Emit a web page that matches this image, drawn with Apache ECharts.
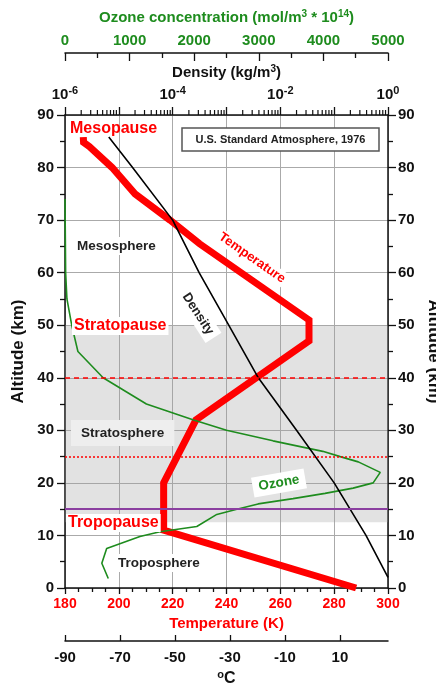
<!DOCTYPE html>
<html><head><meta charset="utf-8">
<script src="https://cdn.jsdelivr.net/npm/echarts@6/dist/echarts.min.js"></script>
<style>html,body{margin:0;padding:0;background:#fff}#c{width:436px;height:684px}</style>
</head><body><div id="c"></div>
<script>
// ---- data ----
const temperatureK   = [288.15, 216.65, 216.65, 228.65, 270.65, 270.65, 230, 219, 206, 197.5, 189, 186.9, 186.8];
const temperatureAlt = [0, 11, 20, 32, 47, 51, 65.5, 70, 75, 80, 84, 84.8, 85.8];

const densityKgM3  = [1.0, 0.39, 0.1, 0.02, 0.0039, 0.0011, 3.1e-4, 1.0e-4, 1.8e-5, 6.5e-6];
const densityAlt   = [2, 10, 20, 30, 40, 50, 60, 70, 80, 85.8];

const ozoneConc = [670, 570, 645, 1160, 1470, 2040, 2350, 2660, 2990, 3530, 4025, 4460, 4770, 4880, 4540, 4260, 3990, 3220, 2500, 1980, 1260, 590, 200, 104, 30, 10, 0];
const ozoneAlt  = [1.8, 4.7, 7.5, 9.8, 10.7, 11.7, 14, 15, 16, 17, 18, 19, 20, 22, 24, 25, 26, 28, 30, 32, 35, 40, 45, 50, 55, 60, 74];

const stratosphereBand = [12.5, 50];
const stratopauseLine = 40;   // dashed red
const ozoneLayerLine  = 25;   // dotted red
const tropopauseLine  = 15;   // purple

const celsiusTicks      = [-90, -70, -50, -30, -10, 10];
const densityDecades    = [1e-6, 1e-5, 1e-4, 1e-3, 1e-2, 1e-1, 1];
const densityLabelTicks = [1e-6, 1e-4, 1e-2, 1];
const densityMinorMultipliers = [2, 3, 4, 5, 6, 7, 8, 9];

// ---- build ----
const F = "'Liberation Sans', Arial, sans-serif";
const RED = '#ff0000', GREEN = '#1e8c1e', PURPLE = '#8b3fa0', AX = '#111';
const zip = (xs, ys) => xs.map((x, i) => [x, ys[i]]);
const densityMinor = [];
densityDecades.slice(0, -1).forEach(d => densityMinorMultipliers.forEach(m => densityMinor.push(m * d)));
const topAlt = 90;

const axLine = {show: true, onZero: false, lineStyle: {color: AX, width: 1.5}};
const tickStyle = {color: AX, width: 1.3};
const plain = v => String(v);

const chart = echarts.init(document.getElementById('c'), null, {renderer: 'canvas'});
const option = {
  animation: false,
  backgroundColor: '#fff',
  textStyle: {fontFamily: F},
  grid: {left: 65, top: 115, right: 48, bottom: 96, containLabel: false, outerBoundsMode: 'none'},
  xAxis: [
    { // temperature (K)
      type: 'value', position: 'bottom', min: 180, max: 300, interval: 20,
      axisLine: axLine,
      axisTick: {show: true, length: 6, lineStyle: tickStyle},
      minorTick: {show: true, splitNumber: 4, length: 4, lineStyle: tickStyle},
      splitLine: {show: true, lineStyle: {color: '#aaa', width: 1}},
      axisLabel: {color: RED, fontSize: 14, fontWeight: 'bold', margin: 9, fontFamily: F, formatter: plain},
      name: 'Temperature (K)', nameLocation: 'middle', nameGap: 27,
      nameTextStyle: {color: RED, fontSize: 15, fontWeight: 'bold', fontFamily: F}
    },
    { // density (log)
      type: 'log', logBase: 10, position: 'top', min: 1e-6, max: 1,
      axisLine: axLine,
      axisTick: {show: true, length: 8, customValues: densityDecades, lineStyle: tickStyle},
      splitLine: {show: false},
      axisLabel: {
        customValues: densityLabelTicks, margin: 10,
        formatter: v => '{b|10}{s|' + Math.round(Math.log10(v)) + '}',
        rich: {
          b: {fontSize: 15, fontWeight: 'bold', color: AX, fontFamily: F},
          s: {fontSize: 11, fontWeight: 'bold', color: AX, fontFamily: F, padding: [0, 0, 9, 0]}
        }
      },
      name: '{t|Density (kg/m}{s|3}{t|)}', nameLocation: 'middle', nameGap: 31,
      nameTextStyle: {
        rich: {
          t: {fontSize: 15, fontWeight: 'bold', color: AX, fontFamily: F},
          s: {fontSize: 10, fontWeight: 'bold', color: AX, fontFamily: F, padding: [0, 0, 7, 0]}
        }
      }
    },
    { // ozone
      type: 'value', position: 'top', offset: 62, min: 0, max: 5000, interval: 1000,
      axisLine: axLine,
      axisTick: {show: true, inside: true, length: 8, lineStyle: tickStyle},
      minorTick: {show: true, splitNumber: 2, length: 5, lineStyle: tickStyle},
      splitLine: {show: false},
      axisLabel: {color: GREEN, fontSize: 15, fontWeight: 'bold', margin: 5, fontFamily: F, formatter: plain},
      name: '{t|Ozone concentration (mol/m}{s|3}{t| * 10}{s|14}{t|)}', nameLocation: 'middle', nameGap: 27,
      nameTextStyle: {
        rich: {
          t: {fontSize: 15, fontWeight: 'bold', color: GREEN, fontFamily: F},
          s: {fontSize: 10, fontWeight: 'bold', color: GREEN, fontFamily: F, padding: [0, 0, 7, 0]}
        }
      }
    },
    { // celsius
      type: 'value', position: 'bottom', offset: 53, min: -90, max: 27.5,
      axisLine: axLine,
      axisTick: {show: true, inside: true, length: 6, customValues: celsiusTicks, lineStyle: tickStyle},
      splitLine: {show: false},
      axisLabel: {customValues: celsiusTicks, color: AX, fontSize: 15, fontWeight: 'bold', margin: 9, fontFamily: F, formatter: plain},
      name: '{s|o}{t|C}', nameLocation: 'middle', nameGap: 22,
      nameTextStyle: {
        rich: {
          t: {fontSize: 16, fontWeight: 'bold', color: AX, fontFamily: F},
          s: {fontSize: 11, fontWeight: 'bold', color: AX, fontFamily: F, padding: [0, 0, 7, 0]}
        }
      }
    }
  ],
  yAxis: [
    {
      type: 'value', position: 'left', min: 0, max: 90, interval: 10,
      axisLine: axLine,
      axisTick: {show: true, length: 8, lineStyle: tickStyle},
      minorTick: {show: true, splitNumber: 2, length: 5, lineStyle: tickStyle},
      splitLine: {show: true, lineStyle: {color: '#aaa', width: 1}},
      axisLabel: {color: AX, fontSize: 15, fontWeight: 'bold', margin: 11, fontFamily: F},
      name: 'Altitude (km)', nameLocation: 'middle', nameGap: 35, nameRotate: 90,
      nameTextStyle: {color: AX, fontSize: 17, fontWeight: 'bold', fontFamily: F}
    },
    {
      type: 'value', position: 'right', min: 0, max: 90, interval: 10,
      axisLine: axLine,
      axisTick: {show: true, length: 8, lineStyle: tickStyle},
      minorTick: {show: true, splitNumber: 2, length: 5, lineStyle: tickStyle},
      splitLine: {show: false},
      axisLabel: {color: AX, fontSize: 15, fontWeight: 'bold', margin: 10, fontFamily: F},
      name: 'Altitude (km)', nameLocation: 'middle', nameGap: 33, nameRotate: -90,
      nameTextStyle: {color: AX, fontSize: 17, fontWeight: 'bold', fontFamily: F}
    }
  ],
  series: [
    {
      name: 'Temperature', type: 'line', xAxisIndex: 0, yAxisIndex: 0,
      data: zip(temperatureK, temperatureAlt), showSymbol: false, symbol: 'none',
      lineStyle: {color: RED, width: 7, join: 'miter'}, z: 2,
      markArea: {silent: true, itemStyle: {color: 'rgba(160,160,160,0.3)'},
        data: [[{yAxis: stratosphereBand[0]}, {yAxis: stratosphereBand[1]}]]}
    },
    {
      name: 'Ozone', type: 'line', xAxisIndex: 2, yAxisIndex: 0,
      data: zip(ozoneConc, ozoneAlt), showSymbol: false, symbol: 'none',
      lineStyle: {color: GREEN, width: 1.6}, z: 3
    },
    {
      name: 'Density', type: 'line', xAxisIndex: 1, yAxisIndex: 0,
      data: zip(densityKgM3, densityAlt), showSymbol: false, symbol: 'none',
      lineStyle: {color: '#000', width: 1.6}, z: 4,
      markLine: {
        silent: true, symbol: ['none', 'none'], label: {show: false},
        data: [
          {yAxis: stratopauseLine, lineStyle: {color: RED, width: 1.5, type: [5, 4]}},
          {yAxis: ozoneLayerLine, lineStyle: {color: RED, width: 1.5, type: [2, 2]}},
          {yAxis: tropopauseLine, lineStyle: {color: PURPLE, width: 2, type: 'solid'}}
        ]
      }
    },
    { // minor log ticks of the density axis, placed through the density scale
      name: 'densityMinorTicks', type: 'custom', xAxisIndex: 1, yAxisIndex: 0,
      silent: true, clip: false, z: 5,
      data: densityMinor.map(v => [v, topAlt]),
      renderItem: (params, api) => {
        const p = api.coord([api.value(0), api.value(1)]);
        return {type: 'line', shape: {x1: p[0], y1: p[1], x2: p[0], y2: p[1] - 5},
                style: {stroke: AX, lineWidth: 1.2}};
      }
    }
  ],
  graphic: [
    {type: 'rect', z: 10, shape: {x: 182, y: 128, width: 197, height: 23},
     style: {fill: '#fff', stroke: '#555', lineWidth: 1.5}},
    {type: 'text', z: 11, x: 280.5, y: 139.5,
     style: {text: 'U.S. Standard Atmosphere, 1976', font: 'bold 11px ' + F, fill: '#222', align: 'center', verticalAlign: 'middle'}},
    {type: 'text', z: 10, x: 70, y: 129,
     style: {text: 'Mesopause', font: 'bold 16px ' + F, fill: RED, align: 'left', verticalAlign: 'middle'}},
    {type: 'text', z: 10, x: 75, y: 246,
     style: {text: 'Mesosphere', font: 'bold 13.5px ' + F, fill: '#222', align: 'left', verticalAlign: 'middle', backgroundColor: '#fff', padding: [2, 2]}},
    {type: 'text', z: 10, x: 72, y: 326,
     style: {text: 'Stratopause', font: 'bold 16px ' + F, fill: RED, align: 'left', verticalAlign: 'middle', backgroundColor: '#fff', padding: [1, 2]}},
    {type: 'text', z: 10, x: 71, y: 433,
     style: {text: 'Stratosphere', font: 'bold 13.5px ' + F, fill: '#222', align: 'left', verticalAlign: 'middle', backgroundColor: '#eeeeee', padding: [6, 10]}},
    {type: 'text', z: 10, x: 66, y: 523,
     style: {text: 'Tropopause', font: 'bold 16px ' + F, fill: RED, align: 'left', verticalAlign: 'middle', backgroundColor: '#fff', padding: [1, 2]}},
    {type: 'text', z: 10, x: 116, y: 563,
     style: {text: 'Troposphere', font: 'bold 13.5px ' + F, fill: '#222', align: 'left', verticalAlign: 'middle', backgroundColor: '#fff', padding: [2, 2]}},
    {type: 'text', z: 10, x: 252, y: 258, rotation: -35 * Math.PI / 180,
     style: {text: 'Temperature', font: 'bold 13px ' + F, fill: RED, align: 'center', verticalAlign: 'middle', backgroundColor: '#fff', padding: [1, 2]}},
    {type: 'text', z: 10, x: 198, y: 314, rotation: -57 * Math.PI / 180,
     style: {text: 'Density', font: 'bold 13px ' + F, fill: '#222', align: 'center', verticalAlign: 'middle', backgroundColor: '#fff', padding: [3, 5]}},
    {type: 'text', z: 10, x: 279, y: 483, rotation: 10 * Math.PI / 180,
     style: {text: 'Ozone', font: 'bold 13.5px ' + F, fill: GREEN, align: 'center', verticalAlign: 'middle', backgroundColor: '#fff', padding: [3, 6]}}
  ]
};
chart.setOption(option);
</script>
</body></html>
